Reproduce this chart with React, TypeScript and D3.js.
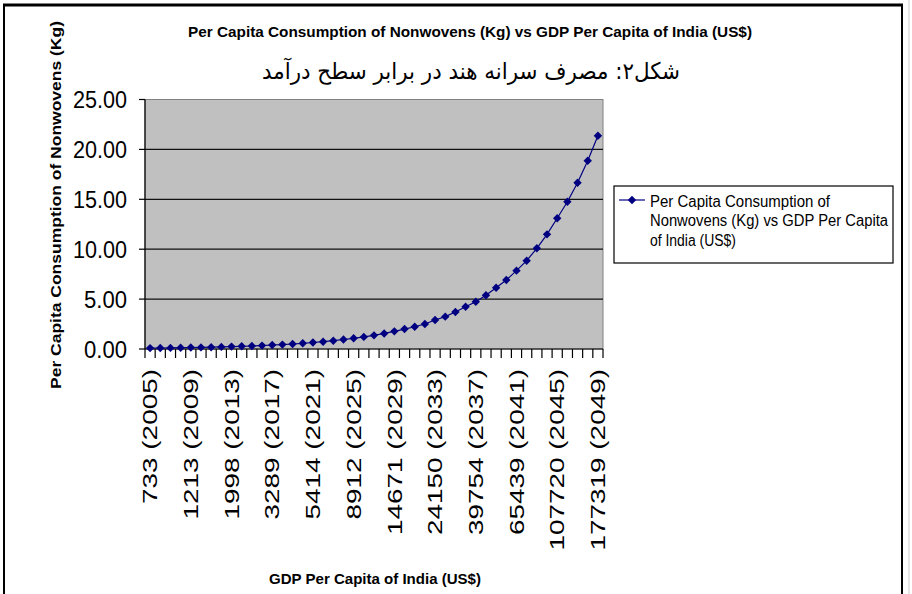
import React from "react";
import * as d3 from "d3";

// Category axis: one category per year
const years = [
  2005, 2006, 2007, 2008, 2009, 2010, 2011, 2012, 2013, 2014,
  2015, 2016, 2017, 2018, 2019, 2020, 2021, 2022, 2023, 2024,
  2025, 2026, 2027, 2028, 2029, 2030, 2031, 2032, 2033, 2034,
  2035, 2036, 2037, 2038, 2039, 2040, 2041, 2042, 2043, 2044,
  2045, 2046, 2047, 2048, 2049,
];

// Per capita consumption of nonwovens (kg), one value per year
const consumption = [
  0.09, 0.10, 0.11, 0.13, 0.15, 0.16, 0.18, 0.21, 0.24, 0.27,
  0.30, 0.34, 0.40, 0.44, 0.50, 0.57, 0.65, 0.73, 0.83, 0.95,
  1.07, 1.21, 1.37, 1.56, 1.77, 2.00, 2.23, 2.50, 2.91, 3.24,
  3.71, 4.24, 4.74, 5.38, 6.14, 6.91, 7.85, 8.85, 10.09, 11.49,
  13.10, 14.76, 16.66, 18.87, 21.37,
];

// Labelled categories: GDP per capita (US$) and year
const labelYears = [2005, 2009, 2013, 2017, 2021, 2025, 2029, 2033, 2037, 2041, 2045, 2049];
const labelGdp = [733, 1213, 1998, 3289, 5414, 8912, 14671, 24150, 39754, 65439, 107720, 177319];

const yTicks = [0, 5, 10, 15, 20, 25];

const chartTitle = "Per Capita Consumption of Nonwovens (Kg) vs GDP Per Capita of India (US$)";
const figureCaption = "شکل۲: مصرف سرانه هند در برابر سطح درآمد";
const yTitle = "Per Capita Consumption of Nonwovens (Kg)";
const xTitle = "GDP Per Capita of India (US$)";
const legendLines = [
  "Per Capita Consumption of",
  "Nonwovens (Kg) vs GDP Per Capita",
  "of India (US$)",
];

const SANS = "'Liberation Sans', Arial, sans-serif";
const NAVY = "#000080";

export default function App() {
  const W = 912;
  const H = 594;
  const plot = { left: 145, right: 603, top: 99.5, bottom: 349 };

  const x = d3.scaleBand<number>().domain(years).range([plot.left, plot.right]);
  const y = d3.scaleLinear().domain([0, 25]).range([plot.bottom, plot.top]);
  const cx = (yr: number) => (x(yr) as number) + x.bandwidth() / 2;

  const linePath = d3
    .line<number>()
    .x((_, i) => cx(years[i]))
    .y((d) => y(d))(consumption) as string;

  const diamond = "M0,-4.2L4.2,0L0,4.2L-4.2,0Z";
  const tickEdges = [...years.map((yr) => x(yr) as number), plot.right];

  return (
    <svg
      width={W}
      height={H}
      viewBox={`0 0 ${W} ${H}`}
      style={{ position: "fixed", left: 0, top: 0, background: "#fff" }}
    >
      <rect x={0} y={0} width={W} height={H} fill="#fff" />

      {/* outer frame */}
      <line x1={3} y1={5} x2={903} y2={5} stroke="#000" strokeWidth={3} />
      <line x1={4} y1={4} x2={4} y2={H} stroke="#000" strokeWidth={2} />
      <line x1={902} y1={4} x2={902} y2={H} stroke="#000" strokeWidth={2} />
      <line x1={909} y1={0} x2={909} y2={H} stroke="#ccc" strokeWidth={1} />

      {/* titles */}
      <text
        x={470}
        y={31}
        textAnchor="middle"
        dominantBaseline="central"
        fontFamily={SANS}
        fontWeight="bold"
        fontSize={15}
        textLength={564}
        lengthAdjust="spacingAndGlyphs"
        fill="#000"
      >
        {chartTitle}
      </text>
      <text
        x={471}
        y={71}
        textAnchor="middle"
        dominantBaseline="central"
        direction="rtl"
        fontFamily="'DejaVu Sans', sans-serif"
        fontSize={23}
        textLength={418}
        lengthAdjust="spacingAndGlyphs"
        fill="#000"
      >
        {figureCaption}
      </text>

      {/* plot area */}
      <rect
        x={plot.left}
        y={plot.top}
        width={plot.right - plot.left}
        height={plot.bottom - plot.top}
        fill="#c0c0c0"
        stroke="#808080"
        strokeWidth={1}
      />
      {yTicks
        .filter((t) => t > 0 && t < 25)
        .map((t) => (
          <line
            key={`g${t}`}
            x1={plot.left}
            x2={plot.right}
            y1={y(t)}
            y2={y(t)}
            stroke="#111"
            strokeWidth={1.2}
          />
        ))}

      {/* y axis */}
      <line x1={plot.left} x2={plot.left} y1={plot.top} y2={plot.bottom} stroke="#000" strokeWidth={1.2} />
      {yTicks.map((t) => (
        <g key={`y${t}`}>
          <line x1={plot.left - 6} x2={plot.left} y1={y(t)} y2={y(t)} stroke="#000" strokeWidth={1.2} />
          <text
            x={127}
            y={y(t)}
            textAnchor="end"
            dominantBaseline="central"
            fontFamily={SANS}
            fontSize={24}
            textLength={t >= 10 ? 54 : 43}
            lengthAdjust="spacingAndGlyphs"
            fill="#000"
          >
            {t.toFixed(2)}
          </text>
        </g>
      ))}

      {/* x axis */}
      <line x1={plot.left} x2={plot.right} y1={plot.bottom} y2={plot.bottom} stroke="#000" strokeWidth={1.2} />
      {tickEdges.map((e, i) => (
        <line key={`xt${i}`} x1={e} x2={e} y1={plot.bottom} y2={plot.bottom + 9} stroke="#000" strokeWidth={1.2} />
      ))}
      {labelYears.map((yr, i) => (
        <text
          key={`xl${yr}`}
          transform={`translate(${cx(yr)},369) rotate(-90) scale(1.33,1)`}
          textAnchor="end"
          dominantBaseline="central"
          fontFamily={SANS}
          fontSize={21}
          fill="#000"
        >
          {`${labelGdp[i]} (${yr})`}
        </text>
      ))}

      {/* series */}
      <path d={linePath} fill="none" stroke={NAVY} strokeWidth={1.2} />
      {consumption.map((v, i) => (
        <path key={`m${i}`} d={diamond} transform={`translate(${cx(years[i])},${y(v)})`} fill={NAVY} />
      ))}

      {/* axis titles */}
      <text
        transform="translate(55,205) rotate(-90)"
        textAnchor="middle"
        dominantBaseline="central"
        fontFamily={SANS}
        fontWeight="bold"
        fontSize={15}
        textLength={368}
        lengthAdjust="spacingAndGlyphs"
        fill="#000"
      >
        {yTitle}
      </text>
      <text
        x={375}
        y={578}
        textAnchor="middle"
        dominantBaseline="central"
        fontFamily={SANS}
        fontWeight="bold"
        fontSize={15}
        textLength={212}
        lengthAdjust="spacingAndGlyphs"
        fill="#000"
      >
        {xTitle}
      </text>

      {/* legend */}
      <rect x={614} y={186} width={279} height={77} fill="#fff" stroke="#000" strokeWidth={1.2} />
      <line x1={619} x2={645} y1={200} y2={200} stroke={NAVY} strokeWidth={1.2} />
      <path d={diamond} transform="translate(632,200)" fill={NAVY} />
      {legendLines.map((s, i) => (
        <text
          key={`lg${i}`}
          x={650}
          y={201 + i * 19.7}
          dominantBaseline="central"
          fontFamily={SANS}
          fontSize={16}
          textLength={[180, 238, 86][i]}
          lengthAdjust="spacingAndGlyphs"
          fill="#000"
        >
          {s}
        </text>
      ))}
    </svg>
  );
}
